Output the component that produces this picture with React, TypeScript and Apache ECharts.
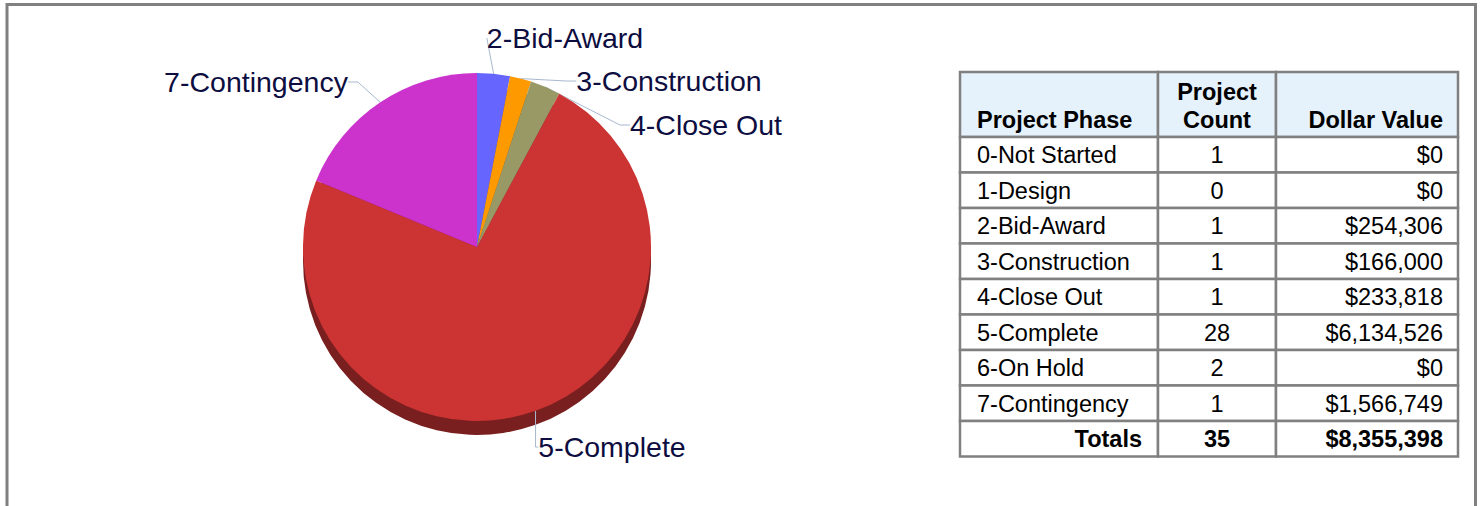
import React, { useEffect, useRef } from "react";
import * as echarts from "echarts";

// ---- data ----
const phases = [
  "0-Not Started",
  "1-Design",
  "2-Bid-Award",
  "3-Construction",
  "4-Close Out",
  "5-Complete",
  "6-On Hold",
  "7-Contingency",
];
const counts = [1, 0, 1, 1, 1, 28, 2, 1];
const dollars = [0, 0, 254306, 166000, 233818, 6134526, 0, 1566749];
const totalCount = 35;
const totalDollars = 8355398;
const headers = ["Project Phase", "Project\nCount", "Dollar Value"];

// ---- styles ----
const sliceColors: Record<string, string> = {
  "2-Bid-Award": "#6666FF",
  "3-Construction": "#FF9900",
  "4-Close Out": "#999966",
  "5-Complete": "#CC3333",
  "7-Contingency": "#CC33CC",
};
const rimColors: Record<string, string> = {
  "2-Bid-Award": "#3D3D99",
  "3-Construction": "#995C00",
  "4-Close Out": "#5C5C3D",
  "5-Complete": "#7A1F1F",
  "7-Contingency": "#7A1F7A",
};
const labelPos: Record<string, [number, number]> = {
  "2-Bid-Award": [565, 38],
  "3-Construction": [669, 81],
  "4-Close Out": [706, 125],
  "5-Complete": [612, 447],
  "7-Contingency": [256, 82],
};

const FONT = "'Liberation Sans', Arial, Helvetica, sans-serif";
const TFS = 23.5;
const fmt = (v: number) => "$" + v.toLocaleString("en-US");

export default function App() {
  const ref = useRef<HTMLDivElement>(null);
  useEffect(() => {
    document.body.style.margin = "0";
    const chart = echarts.init(ref.current!, undefined, { renderer: "svg" });

    const pieItems = phases
      .map((p, i) => ({ name: p, value: dollars[i] }))
      .filter((d) => d.value > 0);

    // ---- table graphics ----
    const colX = [960, 1158, 1276, 1458];
    const headerTop = 72;
    const headerH = 65;
    const rowH = 35.5;
    const g: any[] = [];
    const border = { stroke: "#808080", lineWidth: 2.5 };
    for (let c = 0; c < 3; c++) {
      g.push({
        type: "rect",
        shape: { x: colX[c], y: headerTop, width: colX[c + 1] - colX[c], height: headerH },
        style: { fill: "#E5F1FB", ...border },
        z: 10,
      });
    }
    g.push({
      type: "text",
      x: colX[0] + 17,
      y: 120,
      style: { text: headers[0], font: `bold ${TFS}px ${FONT}`, fill: "#000", align: "left", verticalAlign: "middle" },
      z: 11,
    });
    g.push({
      type: "text",
      x: (colX[1] + colX[2]) / 2,
      y: 106,
      style: {
        text: headers[1],
        font: `bold ${TFS}px ${FONT}`,
        lineHeight: 28,
        fill: "#000",
        align: "center",
        verticalAlign: "middle",
      },
      z: 11,
    });
    g.push({
      type: "text",
      x: colX[3] - 15,
      y: 120,
      style: { text: headers[2], font: `bold ${TFS}px ${FONT}`, fill: "#000", align: "right", verticalAlign: "middle" },
      z: 11,
    });
    const rows = phases.map((p, i) => [p, String(counts[i]), fmt(dollars[i])]);
    rows.push(["Totals", String(totalCount), fmt(totalDollars)]);
    rows.forEach((r, ri) => {
      const y0 = headerTop + headerH + ri * rowH;
      const isTotal = ri === rows.length - 1;
      for (let c = 0; c < 3; c++) {
        g.push({
          type: "rect",
          shape: { x: colX[c], y: y0, width: colX[c + 1] - colX[c], height: rowH },
          style: { fill: "#fff", ...border },
          z: 10,
        });
      }
      const weight = isTotal ? "bold " : "";
      const cy = y0 + rowH / 2 + 0.5;
      g.push({
        type: "text",
        x: isTotal ? colX[1] - 16 : colX[0] + 17,
        y: cy,
        style: { text: r[0], font: `${weight}${TFS}px ${FONT}`, fill: "#000", align: isTotal ? "right" : "left", verticalAlign: "middle" },
        z: 11,
      });
      g.push({
        type: "text",
        x: (colX[1] + colX[2]) / 2,
        y: cy,
        style: { text: r[1], font: `${weight}${TFS}px ${FONT}`, fill: "#000", align: "center", verticalAlign: "middle" },
        z: 11,
      });
      g.push({
        type: "text",
        x: colX[3] - 15,
        y: cy,
        style: { text: r[2], font: `${weight}${TFS}px ${FONT}`, fill: "#000", align: "right", verticalAlign: "middle" },
        z: 11,
      });
    });
    g.push({
      type: "rect",
      shape: { x: 7, y: 4.5, width: 1468.5, height: 700 },
      style: { fill: "none", stroke: "#808080", lineWidth: 3 },
      z: 20,
      silent: true,
    });

    chart.setOption({
      animation: false,
      backgroundColor: "#ffffff",
      textStyle: { fontFamily: FONT },
      graphic: { elements: g },
      series: [
        {
          type: "pie",
          name: "rim",
          z: 1,
          silent: true,
          center: [477, 261],
          radius: 174,
          startAngle: 90,
          clockwise: true,
          label: { show: false },
          labelLine: { show: false },
          data: pieItems.map((d) => ({ ...d, itemStyle: { color: rimColors[d.name] } })),
        },
        {
          type: "pie",
          name: "top",
          z: 2,
          center: [477, 247],
          radius: 174,
          startAngle: 90,
          clockwise: true,
          itemStyle: { borderWidth: 0 },
          label: {
            show: true,
            position: "outside",
            formatter: "{b}",
            fontSize: 28.5,
            fontFamily: FONT,
            color: "#0D0D3F",
          },
          labelLine: {
            show: true,
            length: 10,
            length2: 10,
            lineStyle: { color: "#A9B8CF", width: 1 },
          },
          labelLayout: (params: any) => {
            const name = pieItems[params.dataIndex].name;
            const p = labelPos[name];
            return { x: p[0], y: p[1], align: "center", verticalAlign: "middle" };
          },
          data: pieItems.map((d) => ({ ...d, itemStyle: { color: sliceColors[d.name] } })),
        },
      ],
    });
    return () => chart.dispose();
  }, []);
  return <div ref={ref} style={{ width: 1481, height: 506 }} />;
}
